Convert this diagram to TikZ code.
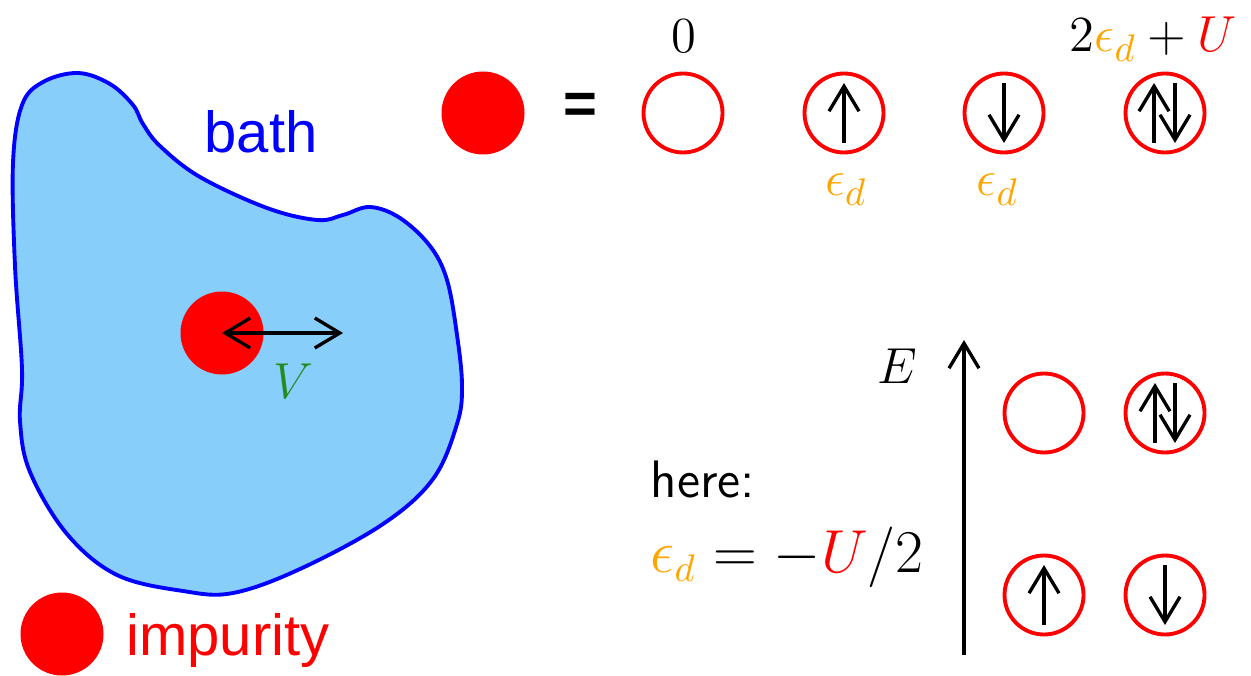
\documentclass[tikz,border=0pt]{standalone}
\usepackage{fontspec}
\newfontfamily\arialfont{Liberation Sans}
\usetikzlibrary{arrows.meta}
\definecolor{bathfill}{RGB}{135,206,250}
\definecolor{vgreen}{RGB}{34,139,34}
\definecolor{edorange}{RGB}{255,165,0}
\newcommand{\edlev}{{\color{edorange}\epsilon_d}}
\newcommand{\Ured}{{\color{red}U}}

\begin{document}
\begin{tikzpicture}[
  state/.style={circle,draw=red,line width=1.1pt,minimum size=7.9mm,inner sep=0pt},
  dot/.style={circle,fill=red,minimum size=8.3mm,inner sep=0pt},
  barb/.tip={Straight Barb[length=2.5mm,width=3mm]},
  spin/.style={line width=0.95pt,-barb},
  lbl/.style={font=\fontsize{15.3}{18}\selectfont,inner sep=0pt},
  word/.style={font=\arialfont\fontsize{16.5}{19}\selectfont,inner sep=0pt}]
  \useasboundingbox (0,0) rectangle (12.51,6.75);
  % bath
  \draw[blue,line width=1.1pt,fill=bathfill] plot[smooth cycle,tension=0.6] coordinates{
    (0.78,6.02)(1.10,5.91)(1.33,5.70)(1.43,5.51)(1.60,5.29)(2.00,4.98)(2.67,4.67)
    (3.17,4.55)(3.43,4.60)(3.70,4.68)(4.00,4.57)(4.30,4.29)(4.47,3.95)(4.57,3.40)
    (4.62,2.89)(4.57,2.51)(4.33,1.96)(3.83,1.51)(3.00,1.06)(2.33,0.82)(1.83,0.84)
    (1.17,1.00)(0.67,1.41)(0.30,2.03)(0.20,2.54)(0.22,3.06)(0.15,4.09)(0.13,5.12)
    (0.22,5.70)(0.43,5.93)};
  \node[word,blue,anchor=base](bath) at(2.61,5.22){bath};
  \node[dot](imp) at(2.22,3.42){};
  \coordinate(hop) at(3.43,3.42);
  \draw[spin,barb-barb](imp.center)--(hop);
  \node[lbl,vgreen,anchor=base](V) at(2.93,2.77){$V$};
  \node[dot](legend) at(0.62,0.41){};
  \node[word,red,anchor=base](implbl) at(2.28,0.20){impurity};
  % local states
  \node[dot](site) at(4.83,5.62){};
  \node[font=\arialfont\bfseries\fontsize{16.5}{19}\selectfont,inner sep=0pt](eq) at(5.80,5.67){=};
  \node[state](s0) at(6.83,5.62){};
  \node[state](su) at(8.44,5.62){};
  \node[state](sd) at(10.04,5.62){};
  \node[state](sud) at(11.65,5.62){};
  \draw[spin]([yshift=-3mm]su.center)--([yshift=3mm]su.center);
  \draw[spin]([yshift=3mm]sd.center)--([yshift=-3mm]sd.center);
  \draw[spin]([xshift=-1.1mm,yshift=-3mm]sud.center)--([xshift=-1.1mm,yshift=3mm]sud.center);
  \draw[spin]([xshift=1mm,yshift=3mm]sud.center)--([xshift=1mm,yshift=-3mm]sud.center);
  \node[lbl,anchor=base](e0) at(6.84,6.22){$0$};
  \node[lbl,anchor=base](eu) at(8.46,4.79){$\edlev$};
  \node[lbl,anchor=base](ed) at(9.975,4.79){$\edlev$};
  \node[lbl,anchor=base](eud) at(11.53,6.23){$2\edlev+\Ured$};
  % energy ordering
  \coordinate(Elow) at(9.64,0.20);
  \coordinate(Ehigh) at(9.64,3.35);
  \draw[spin](Elow)--(Ehigh);
  \node[lbl,anchor=base](E) at(8.97,2.92){$E$};
  \node[state](t0) at(10.44,2.62){};
  \node[state](tud) at(11.65,2.62){};
  \node[state](tu) at(10.44,0.80){};
  \node[state](td) at(11.65,0.80){};
  \draw[spin]([xshift=-1mm,yshift=-3mm]tud.center)--([xshift=-1mm,yshift=3mm]tud.center);
  \draw[spin]([xshift=1mm,yshift=3mm]tud.center)--([xshift=1mm,yshift=-3mm]tud.center);
  \draw[spin]([yshift=-3mm]tu.center)--([yshift=3mm]tu.center);
  \draw[spin]([yshift=3mm]td.center)--([yshift=-3mm]td.center);
  \node[lbl,font=\sffamily\fontsize{15}{18}\selectfont,anchor=base west](here) at(6.50,1.78){here:};
  \node[lbl,font=\fontsize{16.2}{19}\selectfont,anchor=base west](half) at(6.50,1.03){$\edlev=-\Ured/2$};
\end{tikzpicture}
\end{document}
